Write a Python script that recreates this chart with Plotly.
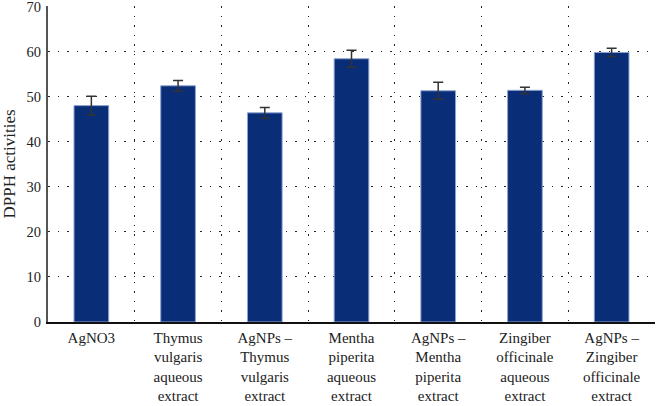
import plotly.graph_objects as go

categories = ["AgNO3", "Thymus<br>vulgaris<br>aqueous<br>extract", "AgNPs –<br>Thymus<br>vulgaris<br>extract",
              "Mentha<br>piperita<br>aqueous<br>extract", "AgNPs –<br>Mentha<br>piperita<br>extract",
              "Zingiber<br>officinale<br>aqueous<br>extract", "AgNPs –<br>Zingiber<br>officinale<br>extract"]
values = [48.0, 52.4, 46.4, 58.4, 51.3, 51.4, 59.8]
errors = [2.1, 1.2, 1.2, 1.9, 1.9, 0.7, 0.9]
y_ticks = [0, 10, 20, 30, 40, 50, 60, 70]

xpos = list(range(len(categories)))
xfont = dict(family="Liberation Serif", size=15, color="#222")
yfont = dict(family="Liberation Serif", size=14.5, color="#222")
dash = "1.5px,8px"

fig = go.Figure(go.Bar(
    x=xpos, y=values, width=0.4,
    marker=dict(color="#0a2d78", line=dict(color="#8ea4d2", width=1)),
    error_y=dict(type="data", array=errors, color="#333", thickness=1.5, width=5),
))
fig.update_layout(
    width=656, height=406, margin=dict(l=48, r=1, t=6, b=84),
    paper_bgcolor="white", plot_bgcolor="white", font=xfont, showlegend=False,
)
fig.update_xaxes(range=[-0.5, 6.5], tickvals=xpos, ticktext=categories, showgrid=False, automargin=False,
                 ticks="", showline=True, linecolor="#111", linewidth=1.5, zeroline=False, ticklabelstandoff=1,
                 ticklabeloverflow="allow",
                 minor=dict(tick0=0.5, dtick=1, showgrid=True, gridcolor="#222", griddash=dash, gridwidth=1.2, ticks=""),
                 tickfont=xfont)
fig.update_yaxes(range=[0, 70.1], tickvals=y_ticks, showgrid=True, gridcolor="#222", griddash=dash, gridwidth=1.2,
                 showline=True, linecolor="#555", linewidth=2, zeroline=False, ticks="", automargin=False,
                 ticklabeloverflow="allow", ticklabelstandoff=2,
                 title=dict(text="DPPH activities", font=dict(family="Liberation Serif", size=17, color="#222"), standoff=12),
                 tickfont=yfont)
fig.write_html("out.html", config={"displayModeBar": False})

with open("out.html", encoding="utf-8") as f:
    html = f.read()
html = html.replace("<head>", "<head><style>html,body{margin:0;padding:0;overflow:hidden}</style>", 1)
with open("out.html", "w", encoding="utf-8") as f:
    f.write(html)
